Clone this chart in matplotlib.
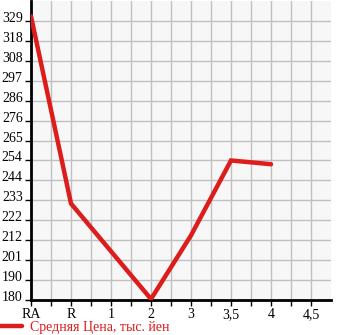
import matplotlib.pyplot as plt
import matplotlib.transforms as mtransforms
import numpy as np

# категории по оси X и значения (тыс. йен)
categories = ['RA', 'R', '1', '2', '3', '3,5', '4', '4,5']
data_cats = ['RA', 'R', '2', '3', '3,5', '4']
prices = [331.5, 231.5, 180.5, 214.5, 254.5, 252.5]
ytick_labels = ['180', '190', '201', '212', '222', '233', '244', '254',
                '265', '276', '286', '297', '308', '318', '329']

step = (329 - 180) / 14.0
yticks = [180 + i * step for i in range(len(ytick_labels))]

plt.rcParams['font.family'] = ['Liberation Serif', 'DejaVu Serif']

fig = plt.figure(figsize=(3.45, 3.35), dpi=100)
ax = fig.add_axes([31 / 345, 35 / 335, 300 / 345, 299 / 335])
ax.set_facecolor('#f7f7f7')

xpos = [categories.index(c) for c in data_cats]
line, = ax.plot(xpos, prices, color='#dd1c1c', linewidth=3.2,
                solid_capstyle='round', solid_joinstyle='miter', zorder=3)

ax.set_xlim(0, 7.5)
ax.set_ylim(180, 180 + 15 * step)

ax.set_xticks(np.arange(len(categories)))
ax.set_xticklabels(categories)
ax.set_xticks(np.arange(0.5, 7.5, 0.5), minor=True)
ax.set_yticks(yticks)
ax.set_yticklabels(ytick_labels)

ax.grid(True, which='both', color='#c0c0c0', linewidth=1)
ax.set_axisbelow(True)

for s in ['top', 'right']:
    ax.spines[s].set_visible(False)
for s in ['left', 'bottom']:
    ax.spines[s].set_linewidth(2)
    ax.spines[s].set_color('black')

ax.tick_params(axis='x', which='both', length=4, width=1, direction='out',
               labelsize=10, pad=2)
ax.tick_params(axis='y', length=4, width=1, direction='out', labelsize=10, pad=2)

# подписи по Y чуть выше рисок
off = mtransforms.ScaledTranslation(0, 4 / 100, fig.dpi_scale_trans)
for lbl in ax.get_yticklabels():
    lbl.set_transform(lbl.get_transform() + off)

fig.legend([line], ['Средняя Цена, тыс. йен'], loc='center left',
           bbox_to_anchor=(0, 8 / 335), frameon=False, fontsize=10,
           borderpad=0, borderaxespad=0,
           handlelength=1.6, handletextpad=0.55, labelcolor='#dd1c1c')

fig.savefig('out.png', dpi=100)
